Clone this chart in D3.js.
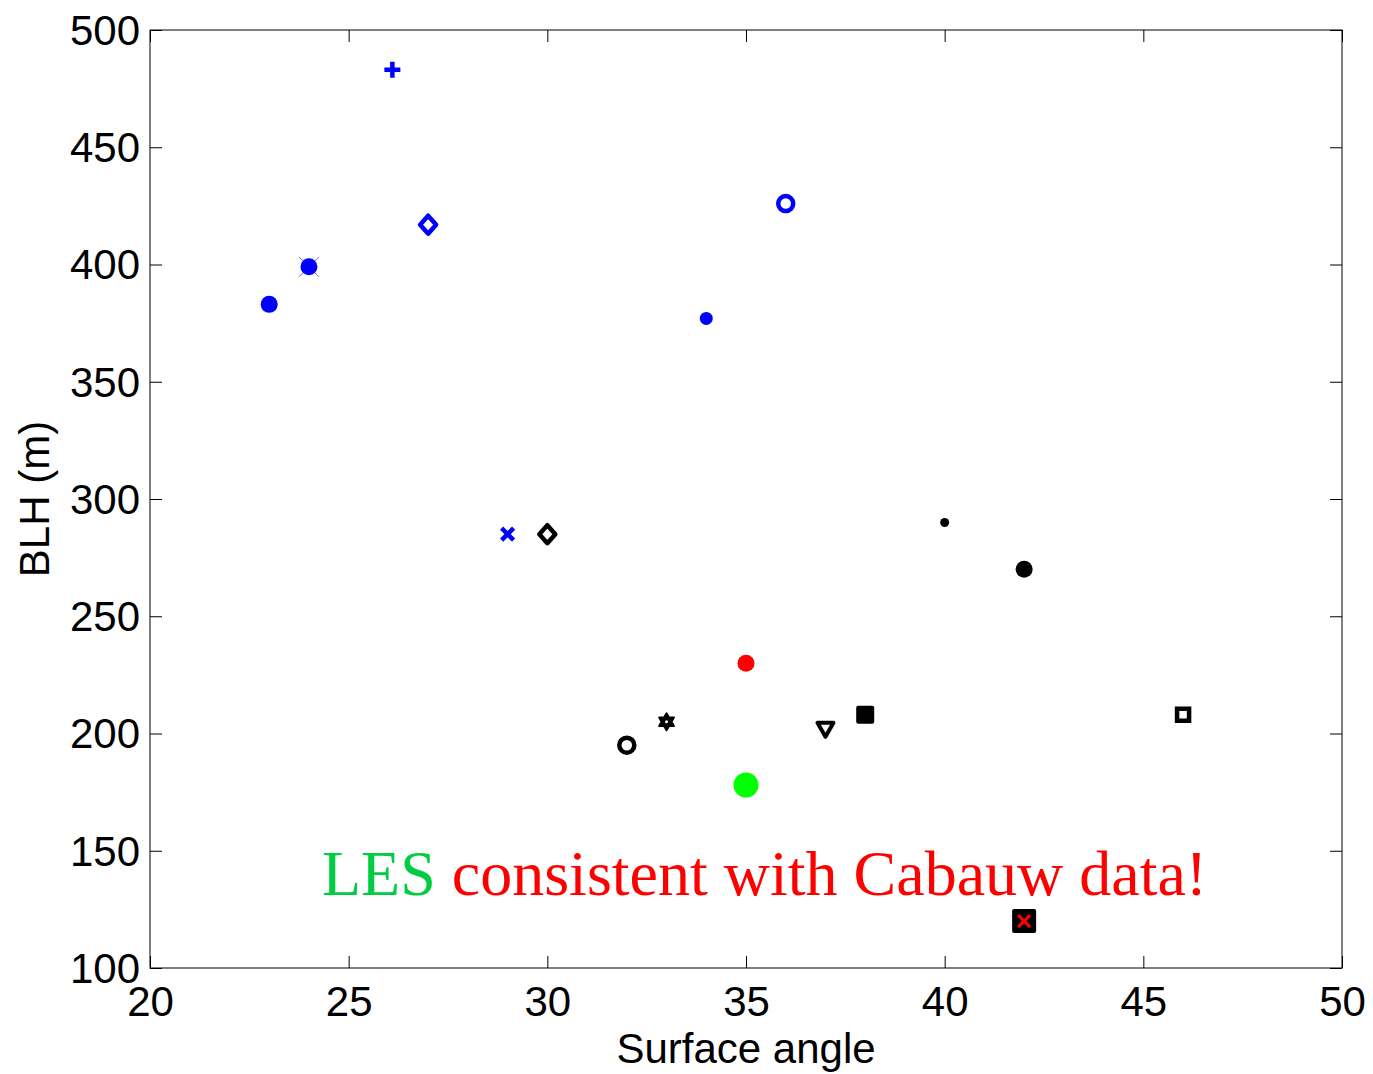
<!DOCTYPE html>
<html>
<head>
<meta charset="utf-8">
<script src="https://cdn.jsdelivr.net/npm/d3@7"></script>
<style>
  body { margin: 0; background: #fff; }
  .tick text { font-family: "Liberation Sans", Arial, sans-serif; }
</style>
</head>
<body>
<script>
// values
var angle = [26.1, 27, 24, 23, 36, 34, 29, 30, 40, 42, 35, 33, 32, 37, 38, 46, 35, 42];
var blh   = [483, 417, 399, 383, 426, 377, 285, 285, 290, 270, 230, 205, 195, 202, 208, 208, 178, 120];
var marker = ['plus', 'diamond', 'dotx', 'dot', 'circle', 'smalldot', 'x', 'diamond', 'tinydot', 'dot',
              'dot', 'hexagram', 'circle', 'tridown', 'fsquare', 'square', 'bigdot', 'xsquare'];
var group = ['b', 'b', 'b', 'b', 'b', 'b', 'b', 'k', 'k', 'k', 'r', 'k', 'k', 'k', 'k', 'k', 'g', 'k'];
var xTicks = [20, 25, 30, 35, 40, 45, 50];
var yTicks = [100, 150, 200, 250, 300, 350, 400, 450, 500];

var colors = { b: '#0000ff', k: '#000000', r: '#ff0000', g: '#00ff00' };

var svg = d3.select('body').append('svg')
    .attr('width', 1373)
    .attr('height', 1074);

var margin = { top: 30, right: 31, bottom: 106, left: 150 },
    width = 1373 - margin.left - margin.right,
    height = 1074 - margin.top - margin.bottom,
    g = svg.append('g').attr('transform', 'translate(' + margin.left + ',' + margin.top + ')');

var x = d3.scaleLinear().domain([20, 50]).range([0, width]);
var y = d3.scaleLinear().domain([100, 500]).range([height, 0]);

function styleAxis(sel) {
    sel.select('.domain').remove();
    sel.selectAll('.tick line').attr('stroke', '#000').attr('stroke-width', 1);
    sel.selectAll('.tick text').attr('fill', '#000').style('font-size', '42px');
}

g.append('g')
    .attr('transform', 'translate(0,' + height + ')')
    .call(d3.axisBottom(x).tickValues(xTicks).tickSize(-12).tickPadding(9).tickFormat(d3.format('d')))
    .call(styleAxis)
    .selectAll('.tick text').attr('dy', '0.93em');
g.append('g')
    .call(d3.axisTop(x).tickValues(xTicks).tickSize(-12).tickFormat(''))
    .call(styleAxis);
g.append('g')
    .call(d3.axisLeft(y).tickValues(yTicks).tickSize(-12).tickPadding(10).tickFormat(d3.format('d')))
    .call(styleAxis)
    .selectAll('.tick text').attr('dy', '0.34em');
g.append('g')
    .attr('transform', 'translate(' + width + ',0)')
    .call(d3.axisRight(y).tickValues(yTicks).tickSize(-12).tickFormat(''))
    .call(styleAxis);

g.append('rect')
    .attr('width', width)
    .attr('height', height)
    .attr('fill', 'none')
    .attr('stroke', '#000')
    .attr('stroke-width', 1);

// axis labels
svg.append('text')
    .attr('x', margin.left + width / 2)
    .attr('y', 1063)
    .style('text-anchor', 'middle')
    .style('font-family', '"Liberation Sans", Arial, sans-serif')
    .style('font-size', '42px')
    .text('Surface angle');

svg.append('text')
    .attr('transform', 'translate(49,' + (margin.top + height / 2) + ') rotate(-90)')
    .style('text-anchor', 'middle')
    .style('font-family', '"Liberation Sans", Arial, sans-serif')
    .style('font-size', '42px')
    .text('BLH (m)');

// markers
var pts = g.selectAll('.pt')
    .data(angle.map(function (a, i) { return { a: a, h: blh[i], m: marker[i], c: colors[group[i]] }; }))
    .enter().append('g')
    .attr('class', 'pt')
    .attr('transform', function (d) { return 'translate(' + x(d.a) + ',' + y(d.h) + ')'; });

function hexagram(r) {
    var p1 = [], p2 = [];
    for (var k = 0; k < 3; k++) {
        var a1 = -Math.PI / 2 + k * 2 * Math.PI / 3, a2 = Math.PI / 2 + k * 2 * Math.PI / 3;
        p1.push([r * Math.cos(a1), r * Math.sin(a1)]);
        p2.push([r * Math.cos(a2), r * Math.sin(a2)]);
    }
    return 'M' + p1.join('L') + 'Z M' + p2.join('L') + 'Z';
}

pts.each(function (d) {
    var s = d3.select(this), c = d.c;
    if (d.m === 'plus') {
        s.append('path').attr('d', 'M-8,0H8M0,-8V8').attr('stroke', c).attr('stroke-width', 4.5);
    } else if (d.m === 'x') {
        s.append('path').attr('d', 'M-6,-6L6,6M-6,6L6,-6').attr('stroke', c).attr('stroke-width', 4.5);
    } else if (d.m === 'diamond') {
        s.append('path').attr('d', 'M0,-9L8,0L0,9L-8,0Z').attr('fill', 'none')
            .attr('stroke', c).attr('stroke-width', 4.5).attr('stroke-linejoin', 'round');
    } else if (d.m === 'dot') {
        s.append('circle').attr('r', 8.5).attr('fill', c);
    } else if (d.m === 'dotx') {
        s.append('path').attr('d', 'M-10,-10L10,10M-10,10L10,-10').attr('stroke', c).attr('stroke-width', 1).attr('opacity', 0.6);
        s.append('circle').attr('r', 8.5).attr('fill', c);
    } else if (d.m === 'smalldot') {
        s.append('circle').attr('r', 6.5).attr('fill', c);
    } else if (d.m === 'tinydot') {
        s.append('circle').attr('r', 4.5).attr('fill', c);
    } else if (d.m === 'bigdot') {
        s.append('circle').attr('r', 12.5).attr('fill', c);
    } else if (d.m === 'circle') {
        s.append('circle').attr('r', 7.5).attr('fill', 'none').attr('stroke', c).attr('stroke-width', 4.5);
    } else if (d.m === 'hexagram') {
        s.append('path').attr('d', hexagram(8.5)).attr('fill', c).attr('stroke', c)
            .attr('stroke-width', 2).attr('stroke-linejoin', 'round');
        s.append('circle').attr('r', 1.5).attr('fill', '#fff');
    } else if (d.m === 'tridown') {
        s.append('path').attr('d', 'M-8,-6H8L0,8Z').attr('fill', 'none')
            .attr('stroke', c).attr('stroke-width', 4).attr('stroke-linejoin', 'round');
    } else if (d.m === 'fsquare') {
        s.append('rect').attr('x', -9).attr('y', -9).attr('width', 18).attr('height', 18)
            .attr('rx', 2).attr('fill', c);
    } else if (d.m === 'square') {
        s.append('rect').attr('x', -6).attr('y', -6).attr('width', 12).attr('height', 12)
            .attr('fill', 'none').attr('stroke', c).attr('stroke-width', 4.5);
    } else if (d.m === 'xsquare') {
        s.append('rect').attr('x', -12).attr('y', -12).attr('width', 24).attr('height', 24)
            .attr('rx', 2).attr('fill', c);
        s.append('path').attr('d', 'M-6,-6L6,6M-6,6L6,-6').attr('stroke', colors.r).attr('stroke-width', 3);
    }
});

// annotation
var note = svg.append('text')
    .attr('x', 322)
    .attr('y', 895)
    .style('font-family', '"Liberation Serif", "Times New Roman", serif')
    .style('font-size', '64px');
note.append('tspan').attr('fill', '#00cc44').text('LES ');
note.append('tspan').attr('fill', '#ff0000').text('consistent with Cabauw data!');
</script>
</body>
</html>
